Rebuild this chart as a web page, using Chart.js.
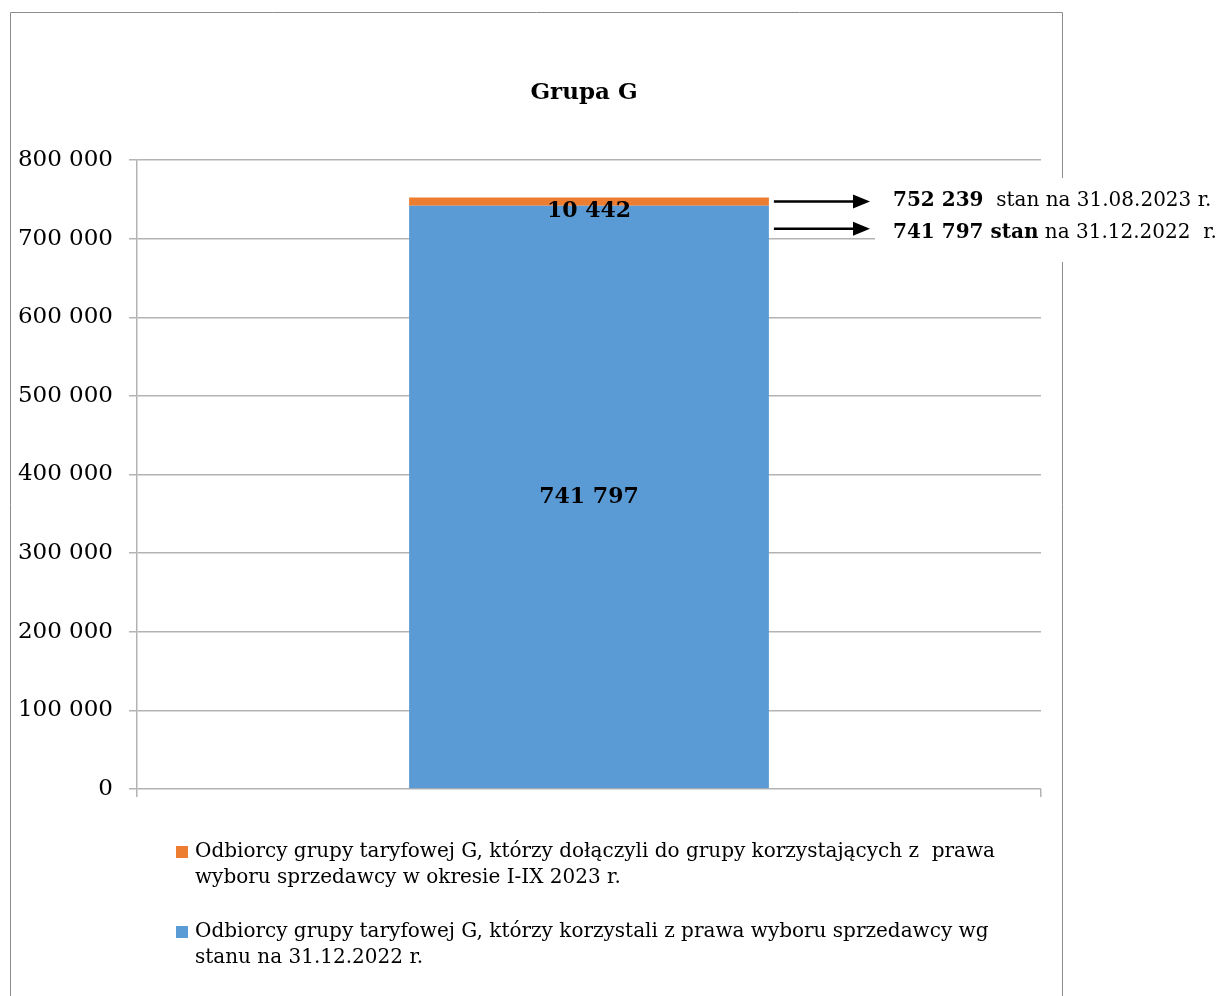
<!DOCTYPE html>
<html>
<head>
<meta charset="utf-8">
<script src="https://cdn.jsdelivr.net/npm/chart.js@4.4.0/dist/chart.umd.min.js"></script>
<style>
  body { margin: 0; background: #fff; }
  #wrap { position: relative; width: 1220px; height: 996px; }
</style>
</head>
<body>
<div id="wrap"><canvas id="chartG"></canvas></div>
<script>
// dane
const categories = ['Grupa G'];
const seriesNames = [
  ['Odbiorcy grupy taryfowej G, którzy korzystali z prawa wyboru sprzedawcy wg', 'stanu na 31.12.2022 r.'],
  ['Odbiorcy grupy taryfowej G, którzy dołączyli do grupy korzystających z  prawa', 'wyboru sprzedawcy w okresie I-IX 2023 r.']
];
const baseValues = [741797];
const addedValues = [10442];
const yMax = 800000;
const yStep = 100000;
const noteBold = ['752 239', '741 797 stan'];
const noteRest = ['  stan na 31.08.2023 r.', ' na 31.12.2022  r.'];

const BLUE = '#5b9bd5';
const ORANGE = '#ed7d31';
const GRID = '#b3b3b3';
const SERIF = '"DejaVu Serif", serif';

function fmt(v) {
  return String(v).replace(/\B(?=(\d{3})+(?!\d))/g, ' ');
}

const extras = {
  id: 'extras',
  beforeDraw(chart) {
    const ctx = chart.ctx;
    ctx.save();
    ctx.fillStyle = '#fff';
    ctx.fillRect(0, 0, chart.width, chart.height);
    ctx.strokeStyle = '#8c8c8c';
    ctx.lineWidth = 1;
    ctx.beginPath();
    ctx.moveTo(10.5, 1000);
    ctx.lineTo(10.5, 12.5);
    ctx.lineTo(1062.5, 12.5);
    ctx.lineTo(1062.5, 1000);
    ctx.stroke();
    // tytul
    ctx.fillStyle = '#000';
    ctx.font = 'bold 23px ' + SERIF;
    ctx.textAlign = 'center';
    ctx.textBaseline = 'middle';
    ctx.fillText(categories[0], 584, 93);
    ctx.restore();
  },
  afterDraw(chart) {
    const ctx = chart.ctx;
    const y = chart.scales.y;
    const blue = chart.getDatasetMeta(0).data[0];
    const orange = chart.getDatasetMeta(1).data[0];
    ctx.save();
    ctx.fillStyle = '#000';
    ctx.textAlign = 'center';
    ctx.textBaseline = 'middle';
    ctx.font = 'bold 22px ' + SERIF;
    ctx.fillText(fmt(baseValues[0]), blue.x, (blue.y + blue.base) / 2);
    ctx.fillText(fmt(addedValues[0]), orange.x, (orange.y + orange.base) / 2 + 10);

    // pole z opisem
    ctx.fillStyle = '#fff';
    ctx.fillRect(875, 178, 345, 84);

    const total = baseValues[0] + addedValues[0];
    const ys = [y.getPixelForValue(total) + 4, y.getPixelForValue(baseValues[0]) + 23];
    const x0 = blue.x + blue.width / 2 + 5;
    ctx.strokeStyle = '#000';
    ctx.fillStyle = '#000';
    ctx.lineWidth = 2.5;
    ys.forEach(function(py) {
      ctx.beginPath();
      ctx.moveTo(x0, py);
      ctx.lineTo(856, py);
      ctx.stroke();
      ctx.beginPath();
      ctx.moveTo(870, py);
      ctx.lineTo(853, py - 7);
      ctx.lineTo(853, py + 7);
      ctx.closePath();
      ctx.fill();
    });

    ctx.textAlign = 'left';
    const lines = [201, 233];
    lines.forEach(function(ty, i) {
      ctx.font = 'bold 20px ' + SERIF;
      ctx.fillText(noteBold[i], 893, ty);
      const w = ctx.measureText(noteBold[i]).width;
      ctx.font = '20px ' + SERIF;
      ctx.fillText(noteRest[i], 893 + w, ty);
    });

    // legenda
    const order = [1, 0];
    const legY = [852, 932];
    ctx.font = '20px ' + SERIF;
    order.forEach(function(di, k) {
      const ds = chart.data.datasets[di];
      ctx.fillStyle = ds.backgroundColor;
      ctx.fillRect(176, legY[k] - 6, 12, 12);
      ctx.fillStyle = '#000';
      ds.label.forEach(function(t, j) {
        ctx.fillText(t, 195, legY[k] + j * 26);
      });
    });
    ctx.restore();
  }
};

new Chart(document.getElementById('chartG'), {
  type: 'bar',
  data: {
    labels: categories,
    datasets: [
      { label: seriesNames[0], data: baseValues, backgroundColor: BLUE },
      { label: seriesNames[1], data: addedValues, backgroundColor: ORANGE }
    ]
  },
  options: {
    responsive: true,
    maintainAspectRatio: false,
    animation: false,
    events: [],
    layout: { padding: { left: 0, top: 160, right: 179, bottom: 199 } },
    datasets: { bar: { categoryPercentage: 1, barPercentage: 0.398 } },
    plugins: { legend: { display: false }, title: { display: false }, tooltip: { enabled: false } },
    scales: {
      x: {
        stacked: true,
        afterFit(s) { s.height = 8; },
        ticks: { display: false },
        grid: { drawOnChartArea: false, drawTicks: true, tickLength: 8, color: GRID, lineWidth: 1.5 },
        border: { display: false }
      },
      y: {
        stacked: true,
        min: 0,
        max: yMax,
        afterFit(s) { s.width = 137; },
        ticks: {
          stepSize: yStep,
          padding: 16,
          color: '#000',
          font: { family: SERIF, size: 23 },
          callback: function(v) { return fmt(v); }
        },
        grid: { color: GRID, lineWidth: 1.5, tickLength: 8 },
        border: { color: GRID, width: 1.5 }
      }
    }
  },
  plugins: [extras]
});
</script>
</body>
</html>
